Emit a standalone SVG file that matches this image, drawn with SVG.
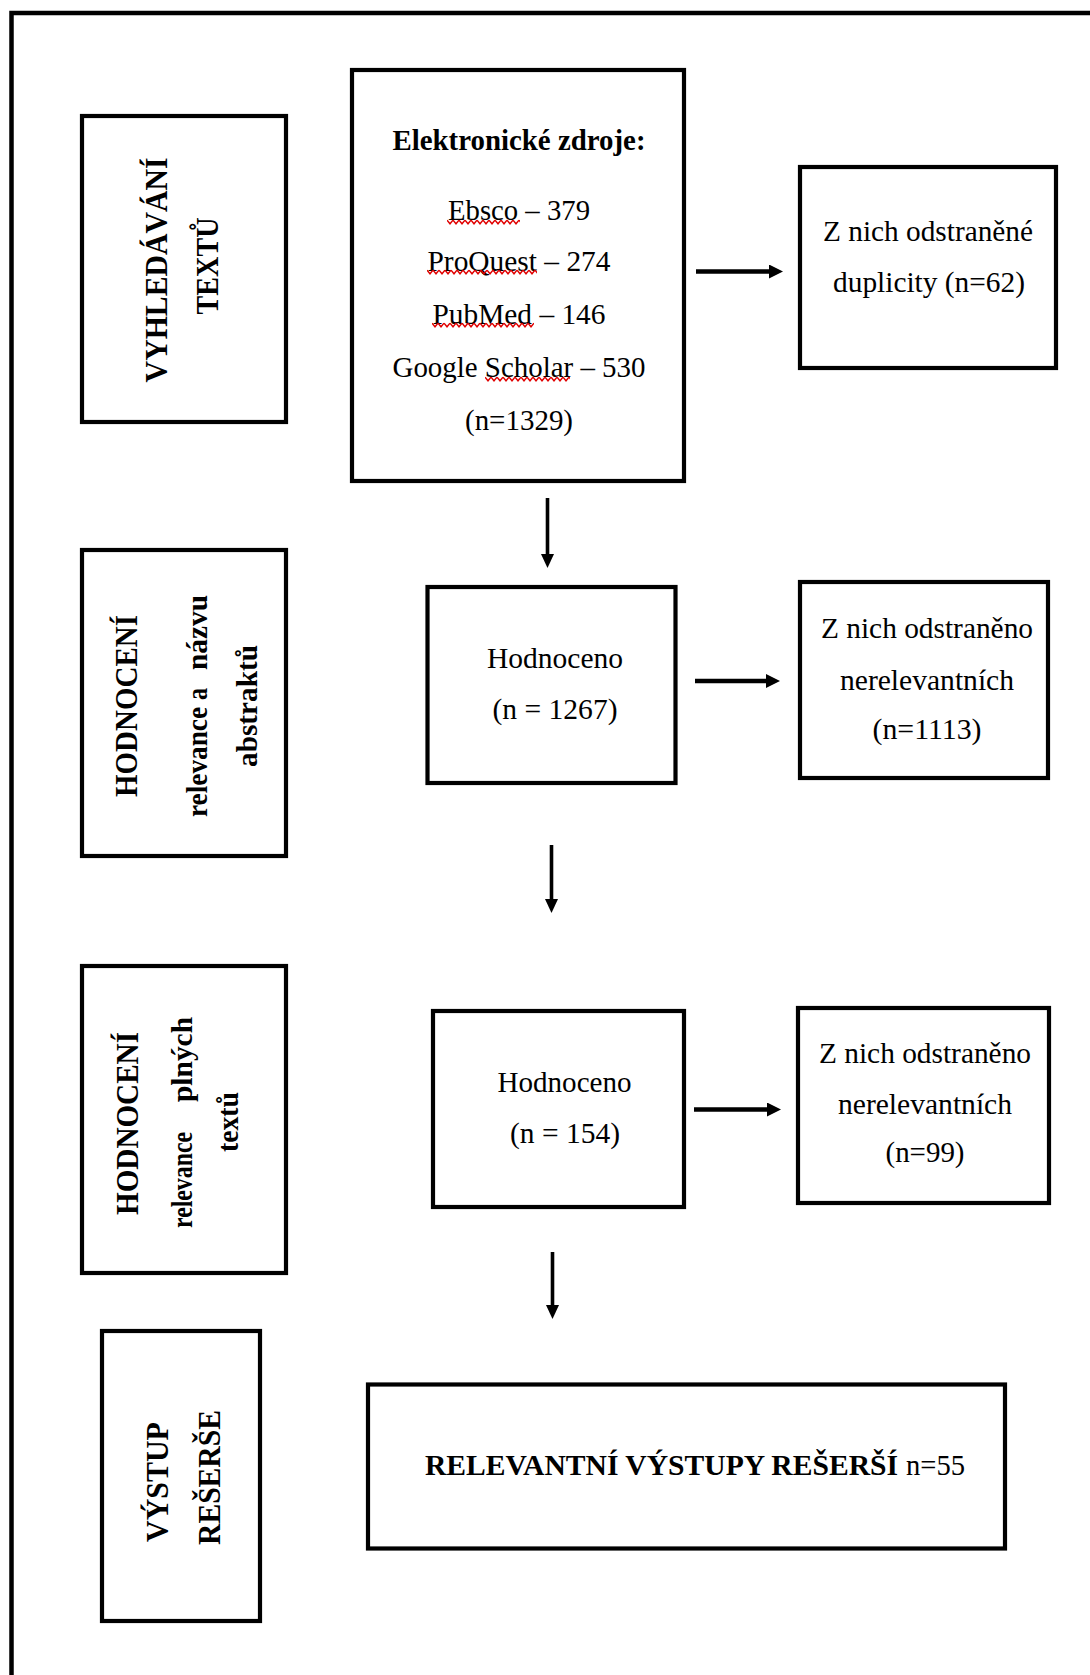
<svg xmlns="http://www.w3.org/2000/svg" width="1090" height="1675" viewBox="0 0 1090 1675">
<style>
.box{fill:#fff;stroke:#000;stroke-width:4.2}
.frame{fill:none;stroke:#000;stroke-width:4.5}
.t{font-family:"Liberation Serif","Times New Roman",serif;font-size:29px;fill:#000;text-anchor:middle}
.b{font-weight:bold}
.rt{font-family:"Liberation Serif","Times New Roman",serif;font-weight:bold;fill:#000}
.cap{font-size:31px}
.low{font-size:30px}
.h{stroke:#000;stroke-width:4.5;fill:none}
.v{stroke:#000;stroke-width:3.6;fill:none}
.squig{fill:url(#sq)}
</style>
<defs>
<marker id="ah" viewBox="0 0 14 14" refX="2" refY="7" markerWidth="14" markerHeight="14" markerUnits="userSpaceOnUse" orient="auto">
<path d="M0,0 L14,7 L0,14 z" fill="#000"/>
</marker>
<marker id="av" viewBox="0 0 14 13" refX="2" refY="6.5" markerWidth="14" markerHeight="13" markerUnits="userSpaceOnUse" orient="auto">
<path d="M0,0 L14,6.5 L0,13 z" fill="#000"/>
</marker>
<pattern id="sq" width="6" height="6" patternUnits="userSpaceOnUse">
<path d="M0,1.2 L3,4.8 L6,1.2" fill="none" stroke="#e00000" stroke-width="1.5"/>
</pattern>
</defs>

<rect class="frame" x="11.5" y="13" width="1100" height="1700"/>

<g id="n-vyhledavani">
<rect class="box" x="82" y="116" width="204" height="306"/>
<text class="rt cap" transform="translate(184,266) rotate(-90)" text-anchor="middle">
<tspan x="0" y="-17" textLength="225" lengthAdjust="spacingAndGlyphs">VYHLEDÁVÁNÍ</tspan>
<tspan x="0" y="34" textLength="97" lengthAdjust="spacingAndGlyphs">TEXTŮ</tspan>
</text>
</g>

<g id="n-zdroje">
<rect class="box" x="352" y="70" width="332" height="411"/>
<text class="t b" x="519" y="150" textLength="253" lengthAdjust="spacingAndGlyphs">Elektronické zdroje:</text>
<text class="t" x="519" y="220" textLength="142" lengthAdjust="spacingAndGlyphs">Ebsco – 379</text>
<text class="t" x="519" y="271" textLength="183" lengthAdjust="spacingAndGlyphs">ProQuest – 274</text>
<text class="t" x="519" y="324" textLength="173" lengthAdjust="spacingAndGlyphs">PubMed – 146</text>
<text class="t" x="519" y="377" textLength="253" lengthAdjust="spacingAndGlyphs">Google Scholar – 530</text>
<text class="t" x="519" y="430" textLength="108" lengthAdjust="spacingAndGlyphs">(n=1329)</text>
<rect class="squig" transform="translate(447,219)" width="73" height="6"/>
<rect class="squig" transform="translate(427,269)" width="110" height="6"/>
<rect class="squig" transform="translate(432,322)" width="102" height="6"/>
<rect class="squig" transform="translate(485,376)" width="85" height="6"/>
</g>

<g id="n-duplicity">
<rect class="box" x="800" y="167" width="256" height="201"/>
<text class="t" x="928" y="241" textLength="210" lengthAdjust="spacingAndGlyphs">Z nich odstraněné</text>
<text class="t" x="929" y="292" textLength="192" lengthAdjust="spacingAndGlyphs">duplicity (n=62)</text>
</g>

<g id="n-hodnoceni-abstrakt">
<rect class="box" x="82" y="550" width="204" height="306"/>
<text class="rt cap" transform="translate(184,706) rotate(-90)" text-anchor="middle" x="0" y="-47" textLength="182" lengthAdjust="spacingAndGlyphs">HODNOCENÍ</text>
<text class="rt low" transform="translate(184,706) rotate(-90)">
<tspan x="-111" y="23" textLength="110" lengthAdjust="spacingAndGlyphs">relevance</tspan>
<tspan x="6" y="23" textLength="12" lengthAdjust="spacingAndGlyphs">a</tspan>
<tspan x="36" y="23" textLength="75" lengthAdjust="spacingAndGlyphs">názvu</tspan>
</text>
<text class="rt low" transform="translate(184,706) rotate(-90)" text-anchor="middle" x="0" y="73" textLength="122" lengthAdjust="spacingAndGlyphs">abstraktů</text>
</g>

<g id="n-hodnoceno-1267">
<rect class="box" x="427.5" y="587" width="248" height="196"/>
<text class="t" x="555" y="668" textLength="136" lengthAdjust="spacingAndGlyphs">Hodnoceno</text>
<text class="t" x="555" y="719" textLength="125" lengthAdjust="spacingAndGlyphs">(n = 1267)</text>
</g>

<g id="n-nerelevantni-1113">
<rect class="box" x="800" y="582" width="248" height="196"/>
<text class="t" x="927" y="638" textLength="212" lengthAdjust="spacingAndGlyphs">Z nich odstraněno</text>
<text class="t" x="927" y="690" textLength="174" lengthAdjust="spacingAndGlyphs">nerelevantních</text>
<text class="t" x="927" y="739" textLength="109" lengthAdjust="spacingAndGlyphs">(n=1113)</text>
</g>

<g id="n-hodnoceni-plne">
<rect class="box" x="82" y="966" width="204" height="307"/>
<text class="rt cap" transform="translate(184,1122) rotate(-90)" text-anchor="middle" x="-1.5" y="-46" textLength="183" lengthAdjust="spacingAndGlyphs">HODNOCENÍ</text>
<text class="rt low" transform="translate(184,1122) rotate(-90)">
<tspan x="-106" y="8" textLength="96" lengthAdjust="spacingAndGlyphs">relevance</tspan>
<tspan x="20" y="8" textLength="85" lengthAdjust="spacingAndGlyphs">plných</tspan>
</text>
<text class="rt low" transform="translate(184,1122) rotate(-90)" text-anchor="middle" x="0" y="54" textLength="60" lengthAdjust="spacingAndGlyphs">textů</text>
</g>

<g id="n-hodnoceno-154">
<rect class="box" x="433" y="1011" width="251" height="196"/>
<text class="t" x="564.5" y="1092" textLength="134" lengthAdjust="spacingAndGlyphs">Hodnoceno</text>
<text class="t" x="565" y="1143" textLength="110" lengthAdjust="spacingAndGlyphs">(n = 154)</text>
</g>

<g id="n-nerelevantni-99">
<rect class="box" x="798" y="1008" width="251" height="195"/>
<text class="t" x="925" y="1063" textLength="212" lengthAdjust="spacingAndGlyphs">Z nich odstraněno</text>
<text class="t" x="925" y="1114" textLength="174" lengthAdjust="spacingAndGlyphs">nerelevantních</text>
<text class="t" x="925" y="1162" textLength="79" lengthAdjust="spacingAndGlyphs">(n=99)</text>
</g>

<g id="n-vystup">
<rect class="box" x="102" y="1331" width="158" height="290"/>
<text class="rt cap" transform="translate(181,1478) rotate(-90)" text-anchor="middle">
<tspan x="-1" y="-13" textLength="118" lengthAdjust="spacingAndGlyphs">VÝSTUP</tspan>
<tspan x="0.5" y="39" textLength="135" lengthAdjust="spacingAndGlyphs">REŠERŠE</tspan>
</text>
</g>

<g id="n-relevantni">
<rect class="box" x="368" y="1384.5" width="637" height="164"/>
<text class="t b" style="text-anchor:start;font-size:30px" x="425" y="1475" textLength="473" lengthAdjust="spacingAndGlyphs">RELEVANTNÍ VÝSTUPY REŠERŠÍ</text>
<text class="t" style="text-anchor:start;font-size:30px" x="906" y="1475" textLength="59" lengthAdjust="spacingAndGlyphs">n=55</text>
</g>

<g id="connectors">
<path class="h" d="M696,271.5 H771" marker-end="url(#ah)"/>
<path class="h" d="M695,681 H768" marker-end="url(#ah)"/>
<path class="h" d="M694,1109.5 H769" marker-end="url(#ah)"/>
<path class="v" d="M547.5,498 V556" marker-end="url(#av)"/>
<path class="v" d="M551.5,845 V901" marker-end="url(#av)"/>
<path class="v" d="M552.5,1252 V1307" marker-end="url(#av)"/>
</g>
</svg>
